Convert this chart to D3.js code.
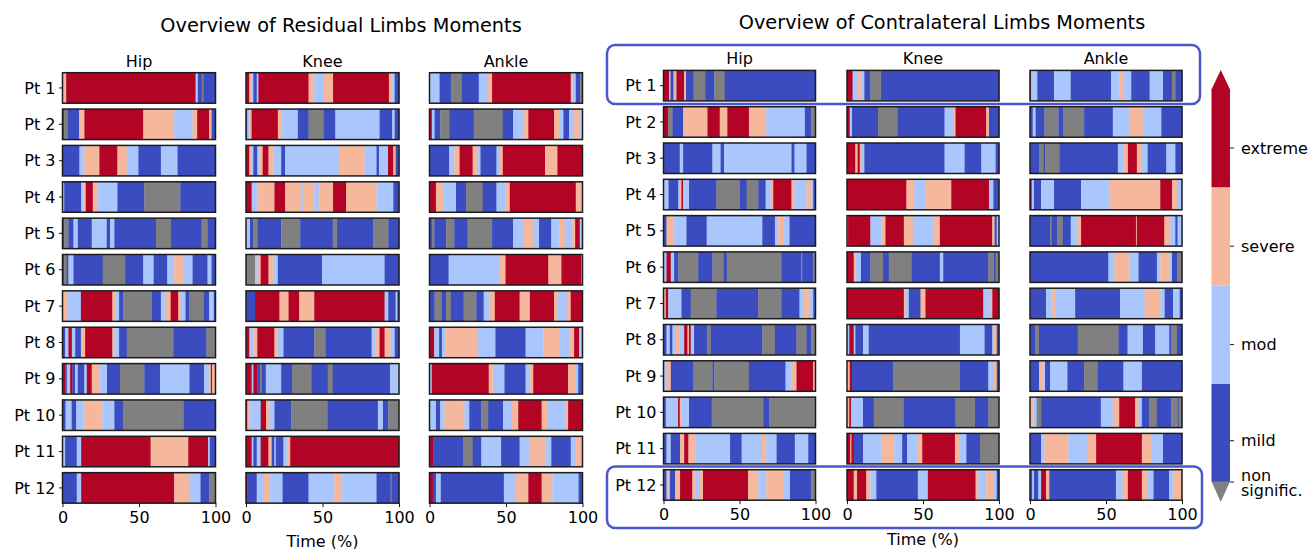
<!DOCTYPE html>
<html>
<head>
<meta charset="utf-8">
<script src="https://cdn.jsdelivr.net/npm/d3@7/dist/d3.min.js"></script>
<style>
  body { margin: 0; background: #fff; }
  svg { display: block; }
  text { font-family: "DejaVu Sans", sans-serif; fill: #000; }
</style>
</head>
<body>
<svg id="chart" width="1309" height="549"></svg>
<script>
// Patients, joints and significance levels
const patients = ["Pt 1", "Pt 2", "Pt 3", "Pt 4", "Pt 5", "Pt 6", "Pt 7", "Pt 8", "Pt 9", "Pt 10", "Pt 11", "Pt 12"];
const joints = ["Hip", "Knee", "Ankle"];
const levels = ["non signific.", "mild", "mod", "severe", "extreme"];
const levelColors = ["#808080", "#3b4cc0", "#aac7fd", "#f5b89d", "#b40426"];
const timeTicks = [0, 50, 100];
const colorbarTicks = [0, 0.42, 1.4, 2.4, 3.4];

// Each gait cycle is a run of "level:end%" pieces (level index into `levels`).
const residualHip = [
  "3:2.4 4:87 2:88.5 1:91 0:92 1:100",
  "1:1 0:3.3 1:10.9 3:14.3 4:52.8 3:73 2:85 3:88 4:95.9 3:97.4 1:100",
  "1:11.1 2:14.3 3:24.1 4:35.9 3:42 2:49.6 1:64.3 2:75.2 1:100",
  "3:1.1 1:12.2 2:13.7 3:15.2 4:19.8 3:23 2:35.9 1:53.5 0:77 1:100",
  "1:1.1 0:3.9 1:7.2 2:10 1:19.1 2:28.9 1:31.1 2:33.9 1:61.1 0:70.9 1:90.9 0:94.8 1:100",
  "1:1 0:2.8 1:3.9 2:7.2 1:26.3 0:40.9 1:52.8 2:59.6 1:68.5 2:73 3:79.3 2:85 1:94.8 2:97.4 1:100",
  "3:3.3 2:12 4:32.6 3:35 2:37 1:39.8 0:58.5 1:64.3 2:67.6 3:70.7 4:75.7 3:77.2 2:80.4 1:83 0:92.4 1:95.9 2:98.9 1:100",
  "1:1.7 2:3.9 4:6.1 2:8.3 1:12 2:12.6 3:14.8 4:32.6 3:33.9 2:37 1:42 0:72.4 1:94.1 0:100",
  "4:1.7 1:2.8 2:5 4:6.5 1:8.3 2:10 1:14.3 2:15.9 4:19.1 3:24.1 2:29.1 1:37.6 0:53.5 1:63.7 2:83 1:92.6 2:95.7 3:97 4:97.8 3:100",
  "1:2 2:6 1:9 2:14.3 3:26 2:33.9 1:39.8 0:79.3 1:100",
  "2:1.7 1:9.3 2:12.2 4:57.6 3:82.2 4:95.2 2:96.3 1:100",
  "1:9.3 2:12.2 4:73 3:83.3 2:90.2 1:95.9 0:100"
];
const residualKnee = [
  "4:2.2 3:3.3 2:4.8 1:7 2:8.1 4:40.9 3:44.6 2:50.8 3:56.9 4:93.4 3:95.6 2:97.2 1:100",
  "1:0.9 2:2.2 3:3.7 4:20.8 3:23.4 2:33.9 1:40.9 0:50.8 1:58.4 2:87.3 1:95.6 2:97.2 1:100",
  "4:2.2 3:3.3 2:4.8 1:7.4 2:8.8 3:10.9 4:14.7 3:17.9 2:23 1:25.6 2:60.6 3:77.5 2:85.3 1:86.9 2:92.8 4:96.3 3:97.8 1:100",
  "4:3.7 2:7.4 3:18.6 4:25.6 3:36.5 2:37.6 3:44.6 2:47.5 3:56.9 4:65.4 3:85.3 2:96.3 1:100",
  "2:2.6 1:4.8 0:7.4 1:23 0:35.4 1:56.7 0:59.5 1:83.2 0:93 1:100",
  "0:5.9 2:7.4 3:9.6 4:14.7 3:17.9 2:20.8 1:49.7 2:90.6 1:100",
  "1:5.9 4:21.9 3:27.8 4:34.8 3:44.6 4:90.6 2:93 1:97.8 2:98.9 1:100",
  "4:2.2 2:4.8 3:7.4 4:18.6 3:20.6 2:24.5 1:44.6 0:51.9 1:82.1 2:84.7 3:87.3 4:90.6 3:94.5 2:97.2 1:100",
  "4:3.7 2:4.8 4:7.4 1:9.2 0:10.3 1:12.9 2:23 1:30 0:42.7 1:53.4 0:56.7 1:94.1 2:100",
  "4:0.9 3:2.6 2:9.6 4:13.1 3:15.3 2:18.6 1:29.5 0:53.4 1:86.2 2:89.5 1:93 0:100",
  "4:3.7 2:4.8 1:7 2:9.6 4:14.7 3:16.8 1:18.6 2:19.5 1:24.5 2:26.7 3:28.9 4:100",
  "4:0.7 1:7 2:11.8 3:15.8 2:23.9 1:40.9 2:57.8 3:62.8 2:85.3 1:94.5 0:95.2 1:100"
];
const residualAnkle = [
  "2:6.6 1:14 0:21.2 1:32.2 2:38.1 3:40.9 4:92.3 3:93.4 2:95.6 1:98.5 0:100",
  "4:1.5 2:3.3 1:7 0:12.9 1:28.9 0:47.9 1:54.7 2:61 3:64.6 4:81.4 3:84.7 2:87.5 1:91.2 2:94.5 3:98.5 2:100",
  "1:12.9 2:16.2 3:19.7 4:28.2 3:31.1 2:33.3 1:43.8 2:46 3:47.9 4:75.5 3:83.6 4:100",
  "4:4.2 3:8.8 2:17.3 1:23.9 0:34.8 1:43.8 2:49.7 3:52.5 4:95.6 3:100",
  "1:1.5 0:3.1 1:10.9 0:16.2 1:24.9 0:40.9 1:54.7 2:61 3:68.3 2:71.6 1:79.6 2:84.7 3:88.4 2:93.4 3:95.2 4:98.2 2:100",
  "1:12.5 2:46 3:49.7 4:77.7 3:86.2 4:99.3 2:100",
  "1:3.3 0:8.1 1:10.9 0:14 1:22.3 0:30.6 1:35.4 2:39.2 3:42.7 4:58.9 3:65.6 4:81.4 3:83.6 2:89.7 3:92.3 4:100",
  "4:3.1 2:6.3 1:8.1 2:10.3 3:31.1 2:43.1 1:62.8 2:74.4 3:84.7 2:91.2 3:94.5 4:97.8 2:100",
  "2:1.5 4:38.7 3:41.6 2:49 1:62.8 2:65.4 3:67.8 4:90.6 3:95.6 2:97.2 1:100",
  "2:4.2 1:7 2:9.8 3:14 2:14.7 3:22.8 2:26 1:33.9 0:38.3 1:48.1 2:53.8 3:58 4:73.3 3:77.5 2:89.1 3:90.6 4:100",
  "4:2.6 1:21.9 0:28.2 1:33.9 2:46.8 1:58.9 2:65.6 3:75.5 2:79.6 1:92.3 2:95.6 3:100",
  "4:2.2 1:4.2 2:7.4 1:48.6 2:55.8 3:64.6 4:73.3 3:80.3 2:97.4 1:100"
];
const contraHip = [
  "4:3.7 2:4.6 1:6.6 3:7.5 2:8.5 4:13.6 3:14.8 1:19.8 0:27.4 1:33.4 0:40.3 1:100",
  "4:3.1 0:5.9 1:12.9 3:28.9 4:37 3:42 4:56.2 3:67.6 2:93 1:97.2 0:100",
  "1:10.7 2:12.9 1:32.2 2:37.6 1:39.8 2:84.2 1:86.2 2:94.1 1:100",
  "2:3.3 1:9.8 2:10.7 3:11.8 4:12.9 2:16.8 1:34.8 0:50.3 1:54.7 0:62.4 1:67.2 2:70.5 3:72.2 4:84.2 3:86.2 2:94.1 3:97.2 2:98.5 1:100",
  "1:2 3:7 2:15.1 1:28.4 2:65 1:73.3 2:75.5 3:79.2 2:82.9 1:100",
  "2:2 4:4.8 2:7 1:9.8 0:22.8 1:32.2 0:39.4 1:41.6 0:77.5 1:90.6 0:91.2 1:98.5 0:100",
  "3:1.5 4:3.1 2:11.8 1:17.9 0:34.8 1:62.4 0:77.5 1:89.5 2:92.3 3:96.3 2:98.5 1:100",
  "1:2 2:4.2 1:5.9 2:8.1 3:10.3 2:13.6 4:15.8 3:16.8 4:17.9 2:20.1 1:28.9 0:31.1 1:65 0:73.3 1:87.5 0:94.1 1:97.2 0:100",
  "2:2 3:4.8 1:19.7 0:32.2 1:33.3 0:56.2 1:80.3 2:84 3:87.5 4:98.5 3:100",
  "1:1.5 2:9.6 4:10.7 3:11.8 2:16.8 1:31.7 0:65.6 1:69.4 0:100",
  "1:2 2:4.8 1:10.9 3:13.6 4:16.4 3:20.8 2:43.8 1:51.4 2:64.6 3:67.6 2:74.4 1:86.4 2:95.2 1:100",
  "1:2 3:3.3 2:4.2 1:7.7 3:10.9 4:19 3:20.8 2:23.9 3:26 4:55.6 3:62.4 2:67.6 3:79.2 2:83.2 1:97.2 0:100"
];
const contraKnee = [
  "4:3.7 2:7.3 3:9.2 2:11.4 1:15.4 0:22.4 1:100",
  "4:1.8 2:3.3 1:20.4 0:33.4 1:64.2 2:69.7 3:71.4 4:91.6 3:93.4 1:100",
  "4:5.5 3:7 4:8.4 3:9.2 2:11.4 1:64.2 2:77.4 1:88.4 2:97.8 1:100",
  "4:39.1 3:44.4 2:51.6 3:68.6 4:93.4 2:96.3 1:100",
  "2:0.7 4:15.4 2:22.6 3:25.3 4:37.4 3:43.3 2:56.5 3:61.1 4:95.6 3:97.1 1:98.5 2:100",
  "4:4.4 3:5.5 2:9.2 1:15.4 0:23.7 1:27.5 0:42.4 1:61.1 2:63.3 1:93 0:96.7 1:97.8 0:100",
  "4:37.4 3:38.5 2:40.7 1:48.4 3:51.6 4:89.7 2:94.5 3:95.6 4:100",
  "2:1.5 4:4.4 2:5.5 1:10.5 2:14.3 1:74.3 2:90.5 1:95.6 2:96.7 3:98.5 1:100",
  "3:1.8 4:3.3 1:30.3 0:74.3 1:93 2:96.7 3:98.5 1:100",
  "3:1.5 4:2.6 2:10.5 1:17.6 0:37.4 1:71.4 0:84.2 1:93 0:100",
  "4:2.2 3:2.9 4:4.4 1:10.5 2:22.6 3:31.2 2:36.3 1:39.6 2:46.6 3:49.5 4:71 3:74.3 2:78.5 1:87.5 0:100",
  "4:4.4 3:6.6 4:12.7 3:15.4 2:19.3 1:46.6 2:53.2 4:84.6 3:86.4 2:91.6 3:96.7 2:98.5 1:100"
];
const contraAnkle = [
  "4:0.7 2:4.8 1:15.8 2:26.8 1:53.4 2:58.7 3:61.5 2:66.6 1:78.7 2:87.5 1:93.4 0:95.6 1:100",
  "1:1.8 2:3.7 1:9.5 0:18.7 1:22 0:35.6 1:54.5 2:65.5 3:74.3 2:86.4 1:100",
  "1:5.9 0:8.8 1:9.9 0:19.3 1:57.8 2:61.5 3:64.4 4:70.3 3:73.6 2:77.4 1:89.7 2:95.6 1:100",
  "4:1.1 2:2.6 1:7.3 2:15.8 1:33.6 2:52.3 3:85.7 4:93.4 3:96.7 2:100",
  "1:13.2 0:14.3 1:18 0:21.5 1:26.8 2:30.8 3:33.6 4:69.7 3:70.3 4:88.4 3:92.3 2:95.6 1:97.1 2:100",
  "1:51.6 2:55.6 3:65.5 2:71.4 1:83.5 2:85.7 3:91.6 2:93.4 1:96.7 0:100",
  "1:10.5 2:14.7 3:16.5 2:29.7 1:59.3 2:75.4 3:85.7 2:88.6 1:94.1 2:98.5 1:100",
  "1:3.3 0:5.9 1:31.4 0:58.2 1:64.2 2:74.3 1:82.4 2:91.6 1:93 0:96.7 1:100",
  "1:5.9 2:6.6 3:8.8 2:9.9 1:13.2 2:24.6 1:35.6 0:44.4 1:61.5 2:73.6 1:100",
  "3:2.2 2:4.4 0:7.3 1:46.6 2:54.5 3:58.7 4:69.2 3:71.4 2:73.6 1:78.5 0:83.5 1:93 0:97.1 1:97.8 0:100",
  "1:7.3 2:9.5 3:25.3 2:37.4 3:43.5 4:73.6 3:80.2 2:87.5 1:100",
  "1:1.5 2:2.6 1:5.5 2:7.3 4:10.5 3:12.7 1:56.5 2:60.9 3:64.4 4:73.6 3:77.4 2:81.3 1:91.6 2:94.1 3:100"
];

// Turn "level:end" runs into {level, start, end} segments
function parseRuns(str) {
  let start = 0;
  return str.split(" ").map(tok => {
    const [lv, end] = tok.split(":").map(Number);
    const seg = { level: lv, start, end };
    start = end;
    return seg;
  });
}

const svg = d3.select("#chart");

const panels = [
  {
    title: "Overview of Residual Limbs Moments",
    series: [residualHip, residualKnee, residualAnkle],
    colX: [62.5, 246, 429.5], colW: 153,
    top: 72.7, step: 36.36, barH: 30.5,
    titleX: 341, titleY: 25, jointY: 61, timeY: 541.5
  },
  {
    title: "Overview of Contralateral Limbs Moments",
    series: [contraHip, contraKnee, contraAnkle],
    colX: [663.5, 847, 1030], colW: 152,
    top: 70.4, step: 36.3, barH: 30.5,
    titleX: 942, titleY: 22, jointY: 58, timeY: 539.5
  }
];

// Highlight frames around selected rows of the contralateral panel
svg.append("rect").attr("x", 607).attr("y", 45).attr("width", 593).attr("height", 59)
  .attr("rx", 8).attr("fill", "none").attr("stroke", "#4a55cf").attr("stroke-width", 2.5);
svg.append("rect").attr("x", 607).attr("y", 466.5).attr("width", 595).attr("height", 61.5)
  .attr("rx", 8).attr("fill", "none").attr("stroke", "#4a55cf").attr("stroke-width", 2.5);

panels.forEach(p => {
  const g = svg.append("g");
  const rowY = d => p.top + patients.indexOf(d) * p.step;

  g.append("text").attr("x", p.titleX).attr("y", p.titleY).attr("dy", "0.35em")
    .attr("text-anchor", "middle").style("font-size", "19.3px").text(p.title);

  joints.forEach((joint, j) => {
    const x = d3.scaleLinear().domain([0, 100]).range([p.colX[j], p.colX[j] + p.colW]);
    const col = g.append("g");

    col.append("text").attr("x", x(50)).attr("y", p.jointY).attr("dy", "0.35em")
      .attr("text-anchor", "middle").style("font-size", "16px").text(joint);

    patients.forEach((pt, i) => {
      const y0 = rowY(pt);
      const segs = parseRuns(p.series[j][i]);
      col.append("g").selectAll("rect").data(segs).join("rect")
        .attr("x", d => x(d.start))
        .attr("y", y0)
        .attr("width", d => Math.max(0, x(d.end) - x(d.start)) + 0.3)
        .attr("height", p.barH)
        .attr("fill", d => levelColors[d.level]);
      col.append("rect").attr("x", x(0)).attr("y", y0)
        .attr("width", x(100) - x(0)).attr("height", p.barH)
        .attr("fill", "none").attr("stroke", "#1c1c1c").attr("stroke-width", 1.5);

      if (j === 0) {
        col.append("line").attr("x1", x(0) - 3.5).attr("x2", x(0))
          .attr("y1", y0 + p.barH / 2).attr("y2", y0 + p.barH / 2)
          .attr("stroke", "#000").attr("stroke-width", 0.9);
        col.append("text").attr("x", x(0) - 7).attr("y", y0 + p.barH / 2).attr("dy", "0.35em")
          .attr("text-anchor", "end").style("font-size", "16px").text(pt);
      }
    });

    // time axis under the last row
    const axisY = rowY(patients[patients.length - 1]) + p.barH;
    const axis = col.append("g").attr("transform", `translate(0,${axisY})`)
      .call(d3.axisBottom(x).tickValues(timeTicks).tickSize(4).tickPadding(4).tickFormat(d3.format("d")));
    axis.select(".domain").remove();
    axis.selectAll("line").attr("stroke", "#000").attr("stroke-width", 0.9);
    axis.selectAll("text").style("font-size", "16px").attr("fill", "#000")
      .style("font-family", "'DejaVu Sans', sans-serif");

    if (j === 1) {
      col.append("text").attr("x", x(50)).attr("y", p.timeY).attr("dy", "0.35em")
        .attr("text-anchor", "middle").style("font-size", "16px").text("Time (%)");
    }
  });
});

// Colour bar with extension triangles
const cb = svg.append("g");
const cbX = 1211.5, cbW = 18.5;
const cbY = d3.scaleLinear().domain([0, 4]).range([482, 89]);
const bands = [1, 2, 3, 4];
cb.selectAll("rect.band").data(bands).join("rect").attr("class", "band")
  .attr("x", cbX).attr("width", cbW)
  .attr("y", d => cbY(d)).attr("height", d => cbY(d - 1) - cbY(d))
  .attr("fill", d => levelColors[d]);
cb.append("path")
  .attr("d", `M${cbX},${cbY(4) + 0.5} L${cbX + cbW / 2},${cbY(4) - 19} L${cbX + cbW},${cbY(4) + 0.5} Z`)
  .attr("fill", levelColors[4]);
cb.append("path")
  .attr("d", `M${cbX},${cbY(0) - 0.5} L${cbX + cbW / 2},${cbY(0) + 20} L${cbX + cbW},${cbY(0) - 0.5} Z`)
  .attr("fill", levelColors[0]);

colorbarTicks.forEach((t, k) => {
  const y = cbY(t);
  cb.append("line").attr("x1", cbX + cbW).attr("x2", cbX + cbW + 4)
    .attr("y1", y).attr("y2", y).attr("stroke", "#000").attr("stroke-width", 0.9);
  const words = levels[k].split(" ");
  if (words.length === 1) {
    cb.append("text").attr("x", cbX + cbW + 11).attr("y", y).attr("dy", "0.35em")
      .style("font-size", "16px").text(words[0]);
  } else {
    // two-line label below the lowest band
    words.forEach((w, wi) => {
      cb.append("text").attr("x", cbX + cbW + 11).attr("y", y - 7 + wi * 15.5).attr("dy", "0.35em")
        .style("font-size", "16px").text(w);
    });
  }
});
</script>
</body>
</html>
